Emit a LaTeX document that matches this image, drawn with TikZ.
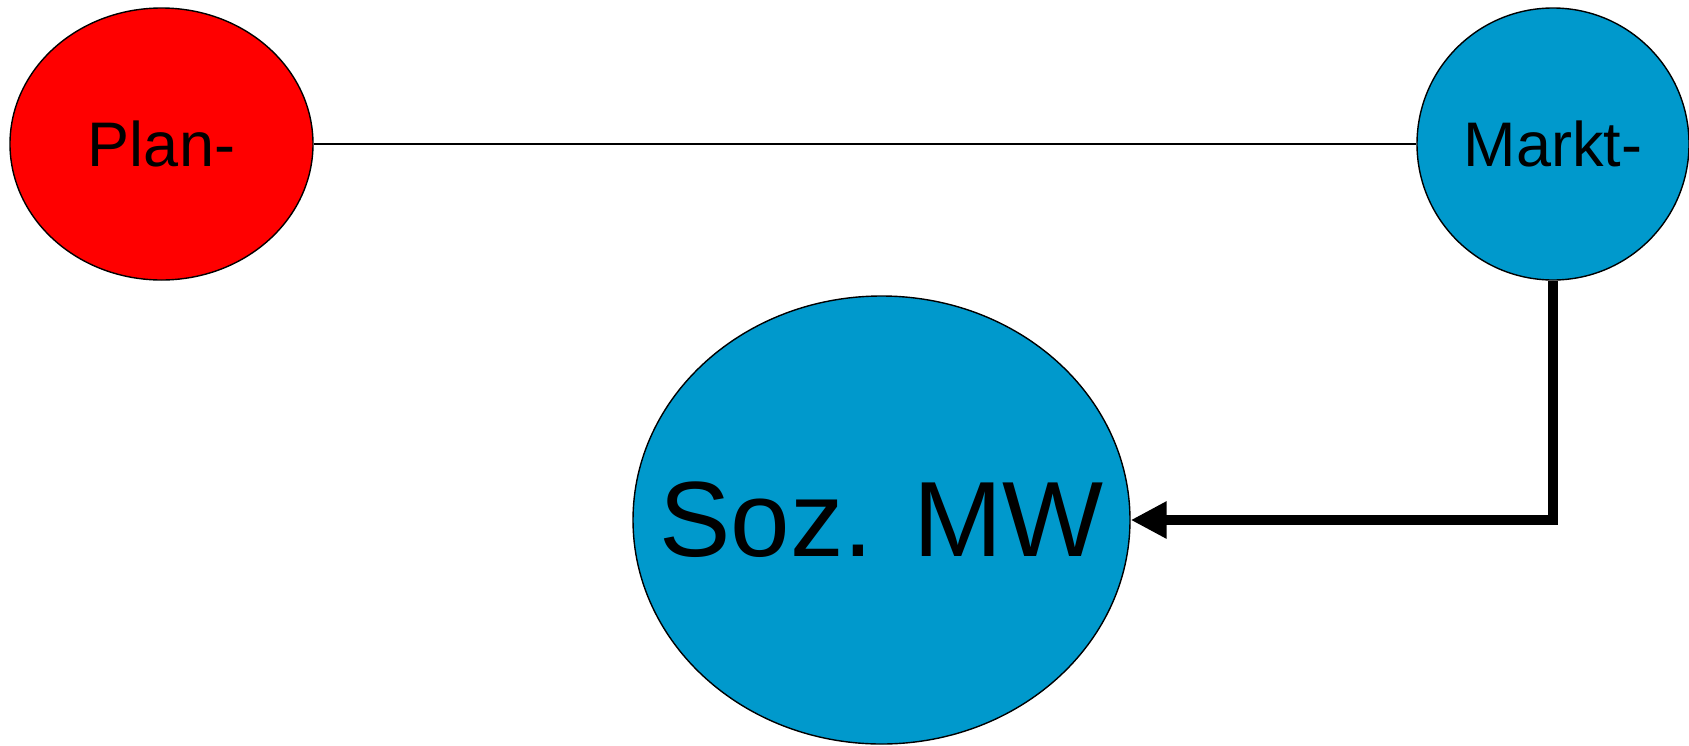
\documentclass[tikz,border=0pt]{standalone}
\usepackage{fontspec}
\setmainfont{Liberation Sans}
\usetikzlibrary{shapes.geometric,arrows.meta}
\definecolor{planred}{RGB}{255,0,0}
\definecolor{markblue}{RGB}{0,153,204}
\tikzset{
  blob/.style={ellipse, draw=black, line width=1.4pt, inner sep=0pt},
  thinlink/.style={draw=black, line width=1.4pt},
  boldlink/.style={draw=black, line width=10pt, -{Triangle[length=36pt,width=35pt]}},
}
\begin{document}
\begin{tikzpicture}[x=1pt,y=-1pt]
\useasboundingbox (0,0) rectangle (1689,745);
\node[blob, fill=planred, minimum width=303pt, minimum height=272pt,
      label={[font=\fontsize{63}{70}\selectfont]center:Plan-}] (plan) at (161.5,144) {};
\node[blob, fill=markblue, minimum width=272pt, minimum height=272pt,
      label={[font=\fontsize{63}{70}\selectfont]center:Markt-}] (markt) at (1553,144) {};
\node[blob, fill=markblue, minimum width=497pt, minimum height=448pt,
      label={[font=\fontsize{107}{120}\selectfont]center:Soz. MW}] (soz) at (881.5,520) {};
\draw[thinlink] (plan.east) -- (markt.west);
\draw[boldlink] (markt.south) |- (soz.east);
\end{tikzpicture}
\end{document}
